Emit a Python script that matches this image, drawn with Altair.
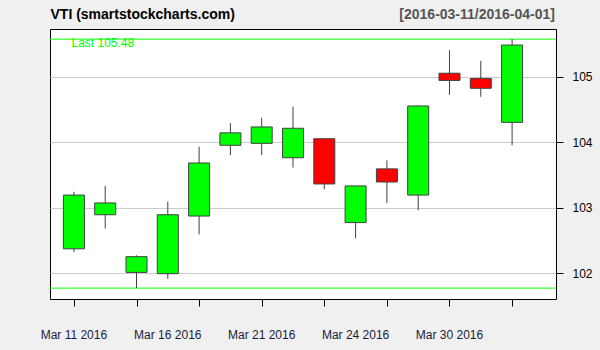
import altair as alt
import pandas as pd

dates = ["Mar 11 2016", "Mar 14 2016", "Mar 15 2016", "Mar 16 2016", "Mar 17 2016",
         "Mar 18 2016", "Mar 21 2016", "Mar 22 2016", "Mar 23 2016", "Mar 24 2016",
         "Mar 28 2016", "Mar 29 2016", "Mar 30 2016", "Mar 31 2016", "Apr 01 2016"]
opens = [102.37, 102.89, 102.01, 101.99, 102.87, 103.95, 103.98, 103.76, 104.05, 102.77,
         103.59, 103.19, 105.05, 104.97, 104.30]
highs = [103.24, 103.33, 102.27, 103.09, 103.93, 104.29, 104.37, 104.54, 104.05, 103.33,
         103.72, 104.56, 105.40, 105.24, 105.57]
lows = [102.32, 102.68, 101.77, 101.91, 102.59, 103.80, 103.80, 103.61, 103.28, 102.53,
        103.07, 102.96, 104.72, 104.69, 103.95]
closes = [103.19, 103.07, 102.25, 102.89, 103.68, 104.14, 104.23, 104.21, 103.36, 103.33,
          103.39, 104.55, 104.94, 104.82, 105.48]
label_idx = [0, 3, 6, 9, 12]
y_ticks = [102, 103, 104, 105]

df = pd.DataFrame({
    "i": list(range(len(dates))),
    "date": dates,
    "open": opens, "high": highs, "low": lows, "close": closes,
})
df["dir"] = ["up" if c >= o else "down" for o, c in zip(opens, closes)]

W, H = 506, 270
FONT = "Liberation Sans"

xscale = alt.Scale(domain=[-0.604, 15.243], nice=False, zero=False)
yscale = alt.Scale(domain=[101.604, 105.725], nice=False, zero=False)

xaxis = alt.Axis(values=list(range(len(dates))), labels=False, tickSize=7,
                 tickColor="black", domain=False, grid=False, title=None)
yaxis = alt.Axis(values=y_ticks, orient="right", tickSize=7, tickColor="black",
                 domain=False, grid=True, gridColor="#CCCCCC", gridWidth=1,
                 title=None, labelFont=FONT, labelFontSize=12, labelColor="black",
                 labelPadding=9, labelBaseline="middle", format="d")

base = alt.Chart(df)

wicks = base.mark_rule(color="#404040", strokeWidth=1).encode(
    x=alt.X("i:Q", scale=xscale, axis=xaxis),
    y=alt.Y("low:Q", scale=yscale, axis=yaxis),
    y2="high:Q",
)

bodies = base.mark_bar(size=21, stroke="#404040", strokeWidth=1).encode(
    x=alt.X("i:Q", scale=xscale),
    y=alt.Y("open:Q", scale=yscale),
    y2="close:Q",
    color=alt.Color("dir:N", scale=alt.Scale(domain=["up", "down"], range=["#00FF00", "#FF0000"]),
                    legend=None),
)

lab_df = df[df["i"].isin(label_idx)][["i", "date"]]
x_labels = alt.Chart(lab_df).mark_text(
    align="center", baseline="alphabetic", font=FONT, fontSize=12, color="#1a1a3a"
).encode(
    x=alt.X("i:Q", scale=xscale),
    y=alt.value(H + 40.3),
    text="date:N",
)

lines_df = pd.DataFrame({"v": [max(highs), min(lows)]})
green_lines = alt.Chart(lines_df).mark_rule(color="#00FF00", strokeWidth=1).encode(
    y=alt.Y("v:Q", scale=yscale),
    x=alt.value(0), x2=alt.value(W),
)

last_df = pd.DataFrame({"t": ["Last %.2f" % closes[-1]]})
last_text = alt.Chart(last_df).mark_text(
    align="left", baseline="alphabetic", font=FONT, fontSize=12, color="#00FF00"
).encode(text="t:N", x=alt.value(21.5), y=alt.value(18.3))

title_df = pd.DataFrame({"t": ["VTI (smartstockcharts.com)"]})
title_text = alt.Chart(title_df).mark_text(
    align="left", baseline="alphabetic", font=FONT, fontSize=14, fontWeight="bold", color="black"
).encode(text="t:N", x=alt.value(0.5), y=alt.value(-9.7))

range_df = pd.DataFrame({"t": ["[2016-03-11/2016-04-01]"]})
range_text = alt.Chart(range_df).mark_text(
    align="right", baseline="alphabetic", font=FONT, fontSize=14, fontWeight="bold", color="#555555"
).encode(text="t:N", x=alt.value(W - 1), y=alt.value(-9.7))

chart = alt.layer(green_lines, wicks, bodies, x_labels, last_text, title_text, range_text).properties(
    width=W, height=H,
    padding={"left": 50, "top": 29, "right": 44, "bottom": 51},
    autosize=alt.AutoSizeParams(type="none"),
    background="#F0F0F0",
).configure_view(
    fill="white", stroke="black", strokeWidth=1
)

chart.save("out.html", embed_options={"renderer": "svg", "actions": False})
